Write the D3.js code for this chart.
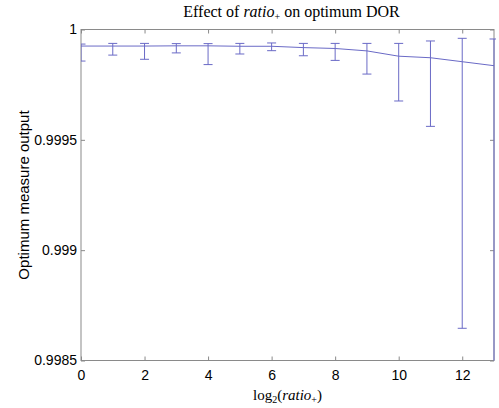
<!DOCTYPE html>
<html>
<head>
<meta charset="utf-8">
<script src="https://cdn.jsdelivr.net/npm/d3@7/dist/d3.min.js"></script>
<style>
  body { margin: 0; background: #fff; }
  svg { display: block; }
  .tick text { font-family: "Liberation Sans", Arial, sans-serif; font-size: 14px; fill: #000; }
</style>
</head>
<body>
<svg id="chart" width="499" height="408"></svg>
<script>
// log2(ratio+) values
var xs = [0, 1, 2, 3, 4, 5, 6, 7, 8, 9, 10, 11, 12, 13];
// mean optimum measure output
var means = [0.999925, 0.999925, 0.999925, 0.999926, 0.999926, 0.999924, 0.999924,
             0.999918, 0.999914, 0.999903, 0.999879, 0.999872, 0.999854, 0.999836];
// upper end of error bar
var uppers = [0.999934, 0.999937, 0.999937, 0.999936, 0.999936, 0.999937, 0.999939,
              0.999937, 0.999937, 0.999937, 0.999937, 0.999948, 0.999960, 0.999957];
// lower end of error bar
var lowers = [0.999857, 0.999884, 0.999865, 0.999894, 0.999841, 0.999889, 0.999904,
              0.999881, 0.999860, 0.999798, 0.999676, 0.999561, 0.998646, 0.998350];

var xTicks = [0, 2, 4, 6, 8, 10, 12];
var yTicks = [0.9985, 0.999, 0.9995, 1];
var yTickLabels = ['0.9985', '0.999', '0.9995', '1'];

var color = '#6a6ac6';
var boxColor = '#8a8a8a';

var svg = d3.select('#chart');
var margin = {left: 81, right: 5, top: 29.5, bottom: 47.5};
var W = 499, H = 408;

var x = d3.scaleLinear().domain([0, 13]).range([margin.left, W - margin.right]);
var y = d3.scaleLinear().domain([0.9985, 1]).range([H - margin.bottom, margin.top]);

// clip a little wider so the bar at x=13 stays visible
svg.append('clipPath').attr('id', 'plotClip')
  .append('rect')
  .attr('x', x(0)).attr('y', y(1))
  .attr('width', x(13) - x(0) + 2).attr('height', y(0.9985) - y(1));

// axes box
svg.append('rect')
  .attr('x', x(0)).attr('y', y(1))
  .attr('width', x(13) - x(0)).attr('height', y(0.9985) - y(1))
  .attr('fill', 'none')
  .attr('stroke', boxColor)
  .attr('stroke-width', 1);

// bottom axis, ticks inward
var xAxis = svg.append('g')
  .attr('transform', 'translate(0,' + y(0.9985) + ')')
  .call(d3.axisBottom(x).tickValues(xTicks).tickSizeInner(-4).tickSizeOuter(0).tickPadding(10));
xAxis.select('.domain').remove();
xAxis.selectAll('.tick line').attr('stroke', boxColor);

// top axis ticks
var xTop = svg.append('g')
  .attr('transform', 'translate(0,' + y(1) + ')')
  .call(d3.axisTop(x).tickValues(xTicks).tickSizeInner(-4).tickSizeOuter(0).tickFormat(''));
xTop.select('.domain').remove();
xTop.selectAll('.tick line').attr('stroke', boxColor);

// left axis
var yAxis = svg.append('g')
  .attr('transform', 'translate(' + x(0) + ',0)')
  .call(d3.axisLeft(y).tickValues(yTicks).tickSizeInner(-4).tickSizeOuter(0).tickPadding(4)
    .tickFormat(function(d, i){ return yTickLabels[i]; }));
yAxis.select('.domain').remove();
yAxis.selectAll('.tick line').attr('stroke', boxColor);

// right axis ticks
var yRight = svg.append('g')
  .attr('transform', 'translate(' + x(13) + ',0)')
  .call(d3.axisRight(y).tickValues(yTicks).tickSizeInner(-4).tickSizeOuter(0).tickFormat(''));
yRight.select('.domain').remove();
yRight.selectAll('.tick line').attr('stroke', boxColor);

// data
var plot = svg.append('g').attr('clip-path', 'url(#plotClip)');

var rows = xs.map(function(d, i){
  return {x: d, m: means[i], hi: uppers[i], lo: lowers[i]};
});

var line = d3.line()
  .x(function(d){ return x(d.x); })
  .y(function(d){ return y(d.m); });

plot.append('path')
  .datum(rows)
  .attr('d', line)
  .attr('fill', 'none')
  .attr('stroke', color)
  .attr('stroke-width', 1);

var capW = 4.5;
var bars = plot.selectAll('.ebar').data(rows).enter().append('g').attr('class', 'ebar');

bars.append('line')
  .attr('x1', function(d){ return x(d.x); })
  .attr('x2', function(d){ return x(d.x); })
  .attr('y1', function(d){ return y(d.hi); })
  .attr('y2', function(d){ return y(d.lo); })
  .attr('stroke', color).attr('stroke-width', 1);

bars.append('line')
  .attr('x1', function(d){ return x(d.x) - capW; })
  .attr('x2', function(d){ return x(d.x) + capW; })
  .attr('y1', function(d){ return y(d.hi); })
  .attr('y2', function(d){ return y(d.hi); })
  .attr('stroke', color).attr('stroke-width', 1);

bars.append('line')
  .attr('x1', function(d){ return x(d.x) - capW; })
  .attr('x2', function(d){ return x(d.x) + capW; })
  .attr('y1', function(d){ return y(d.lo); })
  .attr('y2', function(d){ return y(d.lo); })
  .attr('stroke', color).attr('stroke-width', 1);

// title
var midX = (x(0) + x(13)) / 2;
var title = svg.append('text')
  .attr('x', midX + 4).attr('y', 17)
  .attr('text-anchor', 'middle')
  .style('font-family', '"Liberation Serif", "Times New Roman", serif')
  .style('font-size', '16px');
title.append('tspan').text('Effect of ');
title.append('tspan').style('font-style', 'italic').text('ratio');
title.append('tspan').attr('dy', 3).style('font-size', '10px').text('+');
title.append('tspan').attr('dy', -3).text(' on optimum DOR');

// x label
var xlab = svg.append('text')
  .attr('x', midX).attr('y', 400)
  .attr('text-anchor', 'middle')
  .style('font-family', '"Liberation Serif", "Times New Roman", serif')
  .style('font-size', '15px');
xlab.append('tspan').text('log');
xlab.append('tspan').attr('dy', 3).style('font-size', '10px').text('2');
xlab.append('tspan').attr('dy', -3).text('(');
xlab.append('tspan').style('font-style', 'italic').text('ratio');
xlab.append('tspan').attr('dy', 3).style('font-size', '10px').text('+');
xlab.append('tspan').attr('dy', -3).text(')');

// y label
svg.append('text')
  .attr('transform', 'translate(29,' + ((y(1) + y(0.9985)) / 2) + ') rotate(-90)')
  .attr('text-anchor', 'middle')
  .style('font-family', '"Liberation Sans", Arial, sans-serif')
  .style('font-size', '15px')
  .text('Optimum measure output');
</script>
</body>
</html>
